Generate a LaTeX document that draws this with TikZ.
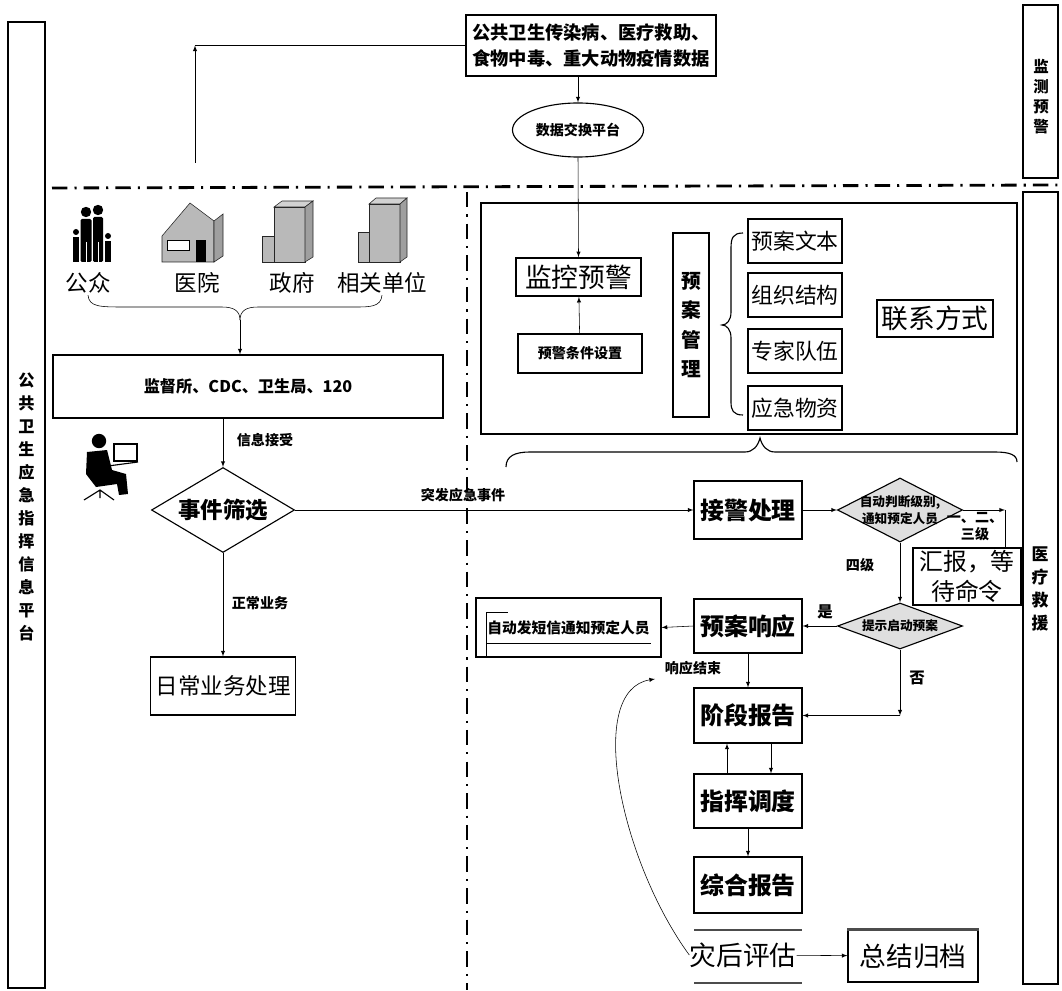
\documentclass[tikz,border=0pt]{standalone}
\usepackage{fontspec}
\setmainfont{Noto Sans CJK SC}
\usetikzlibrary{shapes.geometric, positioning, calc}

\tikzset{
  box/.style={draw, thick, fill=white, inner sep=0pt, align=center},
  stepbox/.style={box, minimum width=2.7cm, font=\bfseries\fontsize{17pt}{20pt}\selectfont},
  itembox/.style={box, minimum width=2.35cm, minimum height=1.1cm, font=\fontsize{15.5pt}{18pt}\selectfont},
  gate/.style={diamond, draw, thick, fill=gray!25, inner sep=0pt},
  gatetext/.style={align=center, inner sep=0pt, font=\bfseries\fontsize{9pt}{12pt}\selectfont},
  note/.style={inner sep=1pt, font=\bfseries\fontsize{10pt}{12pt}\selectfont},
  songtxt/.style={inner sep=1pt, font=\fontsize{16pt}{19pt}\selectfont},
  vtext/.style={align=center, inner sep=0pt},
  sidebar/.style={draw, line width=1.2pt},
  dashdot/.style={line width=2pt, dash pattern=on 11pt off 5pt on 1.5pt off 5pt},
  icon/.style={fill=gray!55, draw=gray!30!black, line width=0.4pt}
}

\begin{document}
\begin{tikzpicture}[x=0.025cm, y=-0.025cm]
\useasboundingbox (0,0) rectangle (1062,990);

% lanes
\draw[sidebar] (8,22) rectangle (45,988);
\node[vtext, font=\bfseries\fontsize{11.5pt}{16.3pt}\selectfont] (lane) at (26.5,507) {公\\共\\卫\\生\\应\\急\\指\\挥\\信\\息\\平\\台};
\draw[sidebar] (1023,5) rectangle (1058,178);
\node[vtext, font=\bfseries\fontsize{11pt}{14.2pt}\selectfont] (warn) at (1041,97) {监\\测\\预\\警};
\draw[sidebar] (1023,192) rectangle (1058,984);
\node[vtext, font=\bfseries\fontsize{12pt}{16.3pt}\selectfont] (rescue) at (1040,589) {医\\疗\\救\\援};
\draw[dashdot] (52,188) -- (1058,185);
\draw[dashdot] (467,192) -- (467,990);

% data source
\node[box, minimum width=6.25cm, minimum height=1.525cm, font=\bfseries\fontsize{13pt}{19pt}\selectfont] (src) at (591,45.5) {公共卫生传染病、医疗救助、\\食物中毒、重大动物疫情数据};
\node[ellipse, draw, thick, minimum width=3.275cm, minimum height=1.35cm, inner sep=0pt, font=\bfseries\fontsize{10pt}{12pt}\selectfont] (plat) at (578,130) {数据交换平台};
\coordinate (up) at (195,163);

% plan management panel
\draw[thick] (481,203) rectangle (1017,434);
\node[box, line width=1.2pt, minimum width=3.125cm, minimum height=0.95cm, font=\fontsize{19pt}{22pt}\selectfont] (mon) at (578.5,277) {监控预警};
\node[box, minimum width=3.1cm, minimum height=0.975cm, font=\bfseries\fontsize{10pt}{12pt}\selectfont] (cond) at (580,353.5) {预警条件设置};
\node[box, vtext, minimum width=0.9cm, minimum height=4.6cm, font=\bfseries\fontsize{14pt}{21pt}\selectfont] (plan) at (691,325) {预\\案\\管\\理};
\foreach \t/\y/\n in {预案文本/241/doc, 组织结构/295/org, 专家队伍/351/exp, 应急物资/408/mat}
  \node[itembox] (\n) at (795,\y) {\t};
\node[box, minimum width=2.9cm, minimum height=0.925cm, font=\fontsize{19pt}{22pt}\selectfont] (cont) at (935,318.5) {联系方式};
\draw[thick] (743,233) .. controls (733,233) and (731,238) .. (731,248) -- (731,312)
  .. controls (731,320) and (727,325) .. (722,325) .. controls (727,325) and (731,330) .. (731,338)
  -- (731,402) .. controls (731,410) and (733,415) .. (743,415);
\draw[thick] (506,467) .. controls (506,456) and (515,452) .. (530,452) -- (745,452)
  .. controls (753,452) and (758,446) .. (760,438) .. controls (762,446) and (767,452) .. (775,452)
  -- (995,452) .. controls (1010,452) and (1017,455) .. (1017,462);

% icons of the reporting parties
\fill (76,232) circle (0.075cm); \fill (73,237) rectangle (79,262);
\fill (86,212) circle (0.13cm); \fill[rounded corners=1pt] (80.5,219) rectangle (91.5,262);
\fill (98,210) circle (0.13cm); \fill[rounded corners=1pt] (93,217) rectangle (103,262);
\fill (108,236) circle (0.075cm); \fill (105,241) rectangle (111,262);
\draw[white, line width=0.6pt] (86,242) -- (86,262) (98,242) -- (98,262);
\filldraw[icon] (162,236) -- (190,203) -- (214,221) -- (214,262) -- (162,262) -- cycle;
\filldraw[icon, fill=gray!75] (214,221) -- (223,214) -- (223,256) -- (214,262) -- cycle;
\filldraw[fill=white, draw=black] (167,240) rectangle (189,250);
\fill (196,240) rectangle (206,262);
\filldraw[icon] (262,236) rectangle (282,262);
\filldraw[icon] (274,207) rectangle (305,262);
\filldraw[icon, fill=gray!35] (274,207) -- (282,201) -- (313,201) -- (305,207) -- cycle;
\filldraw[icon, fill=gray!75] (305,207) -- (313,201) -- (313,257) -- (305,262) -- cycle;
\filldraw[icon] (358,232) rectangle (376,262);
\filldraw[icon] (369,204) rectangle (400,262);
\filldraw[icon, fill=gray!35] (369,204) -- (376,198) -- (407,198) -- (400,204) -- cycle;
\filldraw[icon, fill=gray!75] (400,204) -- (407,198) -- (407,257) -- (400,262) -- cycle;
\node[songtxt] (pub) at (88,283) {公众};
\node[songtxt] (hos) at (197,283) {医院};
\node[songtxt] (gov) at (292,283) {政府};
\node[songtxt] (rel) at (382,283) {相关单位};
\coordinate (join) at (240,320);

% operator at the desk
\fill (99,441) circle (0.18cm);
\fill (87,452) -- (107,450) -- (112,470) -- (126,474) -- (128,494) -- (119,495) -- (117,484) -- (96,487) -- (86,474) -- cycle;
\draw[thick, fill=white] (114,444) rectangle (137,461);
\draw[thick] (108,466) -- (138,462);
\draw[thick] (84,500) -- (100,490) -- (114,500) (100,490) -- (100,498);

% screening
\node[box, minimum width=9.75cm, minimum height=1.575cm, font=\bfseries\fontsize{11.5pt}{14pt}\selectfont] (sup) at (248,386.5) {监督所、CDC、卫生局、120};
\node[gate, fill=white, aspect=1.7, minimum width=3.575cm, minimum height=2.125cm, font=\bfseries\fontsize{16pt}{19pt}\selectfont] (sel) at (223,510) {事件筛选};
\node[box, minimum width=3.625cm, minimum height=1.45cm, font=\fontsize{16pt}{19pt}\selectfont] (daily) at (223,686) {日常业务处理};

% emergency flow
\node[stepbox, minimum height=1.45cm] (recv) at (748,510) {接警处理};
\node[gate, minimum width=3.125cm, minimum height=1.6cm] (d1) at (900,510) {};
\node[gatetext] (d1t) at (d1) {自动判断级别,\\通知预定人员};
\node[box, minimum width=2.7cm, minimum height=1.425cm, font=\fontsize{17pt}{21pt}\selectfont] (wait) at (967,576.5) {汇报，等\\待命令};
\node[gate, minimum width=3.125cm, minimum height=1.15cm] (d2) at (900,626) {};
\node[gatetext] (d2t) at (d2) {提示启动预案};
\node[stepbox, minimum height=1.35cm] (resp) at (748,626) {预案响应};
\node[box, minimum width=4.625cm, minimum height=1.475cm, font=\bfseries\fontsize{10.5pt}{12pt}\selectfont] (sms) at (568.5,627.5) {自动发短信通知预定人员};
\draw (486,657) -- (486,612) -- (508,612);
\draw (486,643) -- (651,643);
\node[stepbox, minimum height=1.375cm] (stage) at (748,715.5) {阶段报告};
\node[stepbox, minimum height=1.35cm] (cmd) at (748,801) {指挥调度};
\node[stepbox, minimum height=1.4cm] (sum) at (748,885) {综合报告};
\node[inner sep=0pt, font=\fontsize{19pt}{22pt}\selectfont] (eval) at (743,955) {灾后评估};
\draw[line width=2pt, gray!60!black] (694,930) -- (802,930) (694,983) -- (802,983);
\node[box, minimum width=3.25cm, minimum height=1.3cm, font=\fontsize{19pt}{22pt}\selectfont] (arch) at (913,956) {总结归档};
\draw[line width=2pt, gray!60!black] (arch.north west) -- (arch.north east);

% connectors
\draw[-latex] (up) -- (up |- src.west);
\draw (up |- src.west) -- (src.west);
\draw[-latex] (src.south -| plat) -- (plat.north);
\draw[-latex] (plat.south) -- (mon.north);
\draw[-latex] (cond) -- (mon);
\draw (pub.south) .. controls (89,307) and (100,307) .. (125,307) -- (222,307) .. controls (234,307) and (240,311) .. (join);
\draw (rel.south) .. controls (381,307) and (370,307) .. (355,307) -- (258,307) .. controls (246,307) and (240,311) .. (join);
\draw[-latex] (join) -- (join |- sup.north);
\draw[-latex] (sup.south -| sel) -- (sel.north);
\node[note] (infolbl) at (265,440) {信息接受};
\draw[-latex] (sel) -- (daily);
\node[note] (normlbl) at (260,603) {正常业务};
\draw[-latex] (sel.east) -- (recv.west);
\node[note] (emglbl) at (463,495) {突发应急事件};
\draw[-latex] (recv) -- (d1);
\coordinate (turn) at (1005,510);
\draw[-latex] (d1.east) -- (turn);
\draw (turn) -- (turn |- wait.north);
\node[note, align=center] (hilbl) at (975,527) {一、二、\\三级};
\draw[-latex] (d1) -- (d2);
\node[note] (lowlbl) at (860,565) {四级};
\draw[-latex] (d2.west) -- (resp.east);
\node[note, font=\bfseries\fontsize{11pt}{13pt}\selectfont] (yeslbl) at (825,612) {是};
\draw[-latex] (resp.west) -- (sms.east);
\draw[-latex] (resp) -- (stage);
\node[note] (endlbl) at (693,668) {响应结束};
\coordinate (low) at (900,715.5);
\draw[-latex] (d2.south) -- (low);
\draw[-latex] (low) -- (stage.east);
\node[note, font=\bfseries\fontsize{11pt}{13pt}\selectfont] (nolbl) at (917,678) {否};
\draw[-latex] ([xshift=-0.525cm]cmd.north) -- ([xshift=-0.525cm]stage.south);
\draw[-latex] ([xshift=0.575cm]stage.south) -- ([xshift=0.575cm]cmd.north);
\draw[-latex] (cmd) -- (sum);
\draw[-latex] (eval) -- (arch);
\coordinate (back) at (655,679);
\draw[-latex] (eval.west) .. controls (620,860) and (585,690) .. (back);
\end{tikzpicture}
\end{document}
